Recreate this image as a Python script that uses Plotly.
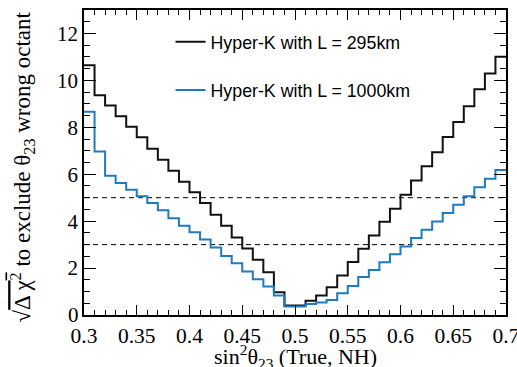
import numpy as np
import plotly.graph_objects as go

# bin edges of sin^2(theta23), 40 bins from 0.30 to 0.70
bin_edges = [round(0.30 + 0.01 * i, 2) for i in range(41)]

# sqrt(delta chi^2) per bin
hk_295 = [10.65, 9.37, 8.93, 8.47, 8.02, 7.58, 7.09, 6.62, 6.15, 5.68,
          5.23, 4.77, 4.27, 3.80, 3.30, 2.83, 2.35, 1.82, 0.97, 0.40,
          0.40, 0.61, 0.83, 1.18, 1.68, 2.26, 2.82, 3.39, 3.97, 4.53,
          5.13, 5.73, 6.34, 6.94, 7.59, 8.23, 8.90, 9.62, 10.29, 11.01]
hk_1000 = [8.66, 6.97, 5.94, 5.63, 5.34, 5.06, 4.77, 4.46, 4.12, 3.80,
           3.53, 3.22, 2.88, 2.52, 2.21, 1.85, 1.52, 1.21, 0.83, 0.36,
           0.36, 0.47, 0.53, 0.64, 0.93, 1.24, 1.62, 1.92, 2.25, 2.59,
           2.92, 3.28, 3.63, 3.99, 4.35, 4.70, 5.06, 5.44, 5.81, 6.18]

names = ["Hyper-K with L = 295km", "Hyper-K with L = 1000km"]
colors = ["#111111", "#1f7bbf"]
thresholds = [3, 5]

x_ticks = [0.3, 0.35, 0.4, 0.45, 0.5, 0.55, 0.6, 0.65, 0.7]
x_tick_labels = ["0.3", "0.35", "0.4", "0.45", "0.5", "0.55", "0.6", "0.65", "0.7"]
y_ticks = [0, 2, 4, 6, 8, 10, 12]
y_tick_labels = ["0", "2", "4", "6", "8", "10", "12"]

x_title = "sin<sup>2</sup>θ<sub>23</sub> (True, NH)"
y_title = ("√<span style='text-decoration:overline'>Δ χ<sup>2</sup></span>"
           " to exclude θ<sub>23</sub> wrong octant")

fig = go.Figure()

for t in thresholds:
    fig.add_trace(go.Scatter(x=[bin_edges[0], bin_edges[-1]], y=[t, t], mode="lines",
                             line=dict(color="black", width=1, dash="5px,4px"),
                             showlegend=False, hoverinfo="skip"))

for i, (vals, name, col) in enumerate(zip([hk_295, hk_1000], names, colors)):
    fig.add_trace(go.Scatter(x=bin_edges, y=list(vals) + [vals[-1]], mode="lines",
                             line=dict(color=col, width=2, shape="hv"),
                             name=name, legendgroup=f"g{i}"))

serif = "Liberation Serif"

# the corner label "0" of the y axis, placed on the y scale
fig.add_annotation(x=0, xref="paper", y=y_ticks[0], yref="y", text=y_tick_labels[0],
                   showarrow=False, xanchor="right", yanchor="middle", xshift=-3,
                   font=dict(family=serif, size=21, color="black"))

# axis titles (placed freely so they can sit where the reference has them)
fig.add_annotation(x=0.5, xref="paper", y=0, yref="paper", text=x_title,
                   showarrow=False, xanchor="center", yanchor="middle", yshift=-41,
                   font=dict(family=serif, size=22, color="black"))
fig.add_annotation(x=0, xref="paper", y=0.5, yref="paper", text=y_title, textangle=-90,
                   showarrow=False, xanchor="center", yanchor="middle", xshift=-62, yshift=-5,
                   font=dict(family=serif, size=23, color="black"))

fig.update_layout(
    width=517, height=367,
    margin=dict(l=84, r=11, t=10, b=52, autoexpand=False),
    paper_bgcolor="white", plot_bgcolor="white",
    showlegend=True,
    legend=dict(x=0.205, y=0.955, xanchor="left", yanchor="top",
                bgcolor="rgba(0,0,0,0)", borderwidth=0,
                font=dict(family="Liberation Sans", size=17.8, color="black"),
                tracegroupgap=22, itemwidth=30),
    xaxis=dict(range=[0.3, 0.7], tickmode="array", tickvals=x_ticks, ticktext=x_tick_labels,
               ticks="inside", ticklen=10, tickwidth=1, tickcolor="black",
               minor=dict(dtick=0.01, ticks="inside", ticklen=5, tickcolor="black", tickwidth=1),
               showline=True, linecolor="black", linewidth=1.5, mirror="ticks",
               showgrid=False, zeroline=False, automargin=False,
               ticklabeloverflow="allow",
               tickfont=dict(family=serif, size=21.5, color="black")),
    yaxis=dict(range=[0, 13], tickmode="array", tickvals=y_ticks[1:], ticktext=y_tick_labels[1:],
               ticks="inside", ticklen=12, tickwidth=1, tickcolor="black",
               minor=dict(dtick=0.5, ticks="inside", ticklen=6, tickcolor="black", tickwidth=1),
               showline=True, linecolor="black", linewidth=1.5, mirror="ticks",
               showgrid=False, zeroline=False, automargin=False,
               ticklabeloverflow="allow",
               tickfont=dict(family=serif, size=21, color="black")),
)

fig.write_html("out.html")
